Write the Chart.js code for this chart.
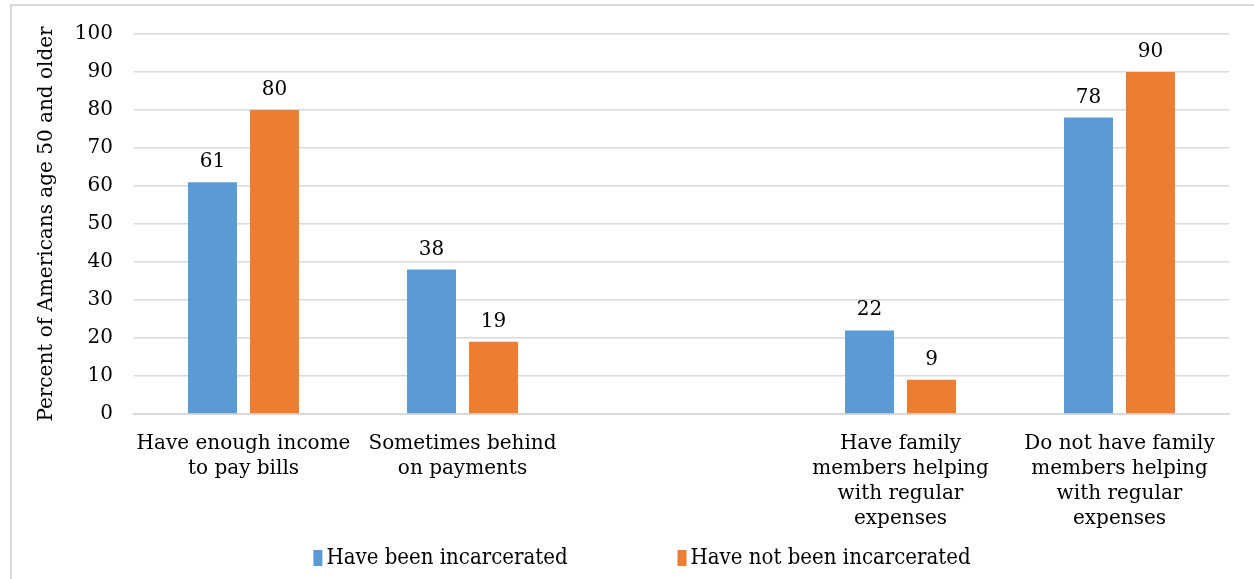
<!DOCTYPE html>
<html>
<head>
<meta charset="utf-8">
<script src="https://cdn.jsdelivr.net/npm/chart.js@4"></script>
<style>
  html, body { margin: 0; padding: 0; background: #fff; }
  #wrap { width: 1254px; height: 579px; }
</style>
</head>
<body>
<div id="wrap"><canvas id="incomeChart" width="1254" height="579"></canvas></div>
<script>
// Категории (пустая колонка посередине отделяет две группы вопросов)
var categories = [
    ["Have enough income", "to pay bills"],
    ["Sometimes behind", "on payments"],
    "",
    ["Have family", "members helping", "with regular", "expenses"],
    ["Do not have family", "members helping", "with regular", "expenses"]
];
var incarcerated = [61, 38, null, 22, 78];
var notIncarcerated = [80, 19, null, 9, 90];
var yTicks = [0, 10, 20, 30, 40, 50, 60, 70, 80, 90, 100];

var serif = "'DejaVu Serif', serif";

// Подписи значений над столбцами
var valueLabels = {
    id: 'valueLabels',
    afterDatasetsDraw: function (chart) {
        var ctx = chart.ctx;
        ctx.save();
        ctx.fillStyle = '#000';
        ctx.font = '20px ' + serif;
        ctx.textAlign = 'center';
        ctx.textBaseline = 'alphabetic';
        chart.data.datasets.forEach(function (ds, i) {
            chart.getDatasetMeta(i).data.forEach(function (bar, j) {
                if (ds.data[j] == null) return;
                ctx.fillText(String(ds.data[j]), bar.x, bar.y - 15);
            });
        });
        ctx.restore();
    }
};

// Рамка вокруг диаграммы
var frame = {
    id: 'frame',
    beforeDraw: function (chart) {
        var ctx = chart.ctx;
        ctx.save();
        ctx.strokeStyle = '#d9d9d9';
        ctx.lineWidth = 2;
        ctx.strokeRect(11, 5, 1300, 700);
        ctx.restore();
    }
};

// Легенда внизу с большим промежутком между элементами
var bottomLegend = {
    id: 'bottomLegend',
    afterDraw: function (chart) {
        var ctx = chart.ctx;
        ctx.save();
        ctx.font = "22px 'DejaVu Serif Condensed', " + serif;
        ctx.textBaseline = 'middle';
        var gap = 110, box = 9, boxGap = 4;
        var items = chart.data.datasets.map(function (ds) {
            return { text: ds.label, color: ds.backgroundColor, w: ctx.measureText(ds.label).width };
        });
        var total = 0;
        items.forEach(function (it, i) { total += box + boxGap + it.w + (i ? gap : 0); });
        var x = 642 - total / 2, y = 558;
        items.forEach(function (it) {
            ctx.fillStyle = it.color;
            ctx.fillRect(x, y - 8, box, 16);
            ctx.fillStyle = '#000';
            ctx.fillText(it.text, x + box + boxGap, y);
            x += box + boxGap + it.w + gap;
        });
        ctx.restore();
    }
};

var chart = new Chart(document.getElementById('incomeChart').getContext('2d'), {
    type: 'bar',
    data: {
        labels: categories,
        datasets: [{
            label: 'Have been incarcerated',
            data: incarcerated,
            backgroundColor: '#5b9bd5'
        }, {
            label: 'Have not been incarcerated',
            data: notIncarcerated,
            backgroundColor: '#ed7d31'
        }]
    },
    options: {
        responsive: false,
        animation: false,
        categoryPercentage: 0.566,
        barPercentage: 0.79,
        layout: { padding: { top: 34, right: 25, bottom: 39, left: 0 } },
        plugins: {
            legend: { display: false },
            tooltip: { enabled: false }
        },
        scales: {
            x: {
                grid: { display: false, drawTicks: false },
                border: { color: '#d9d9d9', width: 2 },
                ticks: {
                    color: '#000',
                    padding: 17,
                    maxRotation: 0,
                    autoSkip: false,
                    font: { size: 20, family: serif, lineHeight: 1.25 }
                },
                afterFit: function (scale) { scale.height = 126; }
            },
            y: {
                min: 0,
                max: 100,
                afterBuildTicks: function (scale) {
                    scale.ticks = yTicks.map(function (v) { return { value: v }; });
                },
                grid: { color: '#d9d9d9', lineWidth: 1.5, drawTicks: false },
                border: { display: false },
                ticks: {
                    color: '#000',
                    padding: 21,
                    font: { size: 20, family: serif }
                },
                title: {
                    display: true,
                    text: 'Percent of Americans age 50 and older',
                    color: '#000',
                    font: { size: 20, family: serif },
                    padding: { top: 35, bottom: 0 }
                },
                afterFit: function (scale) { scale.width = 134; }
            }
        }
    },
    plugins: [frame, valueLabels, bottomLegend]
});
</script>
</body>
</html>
